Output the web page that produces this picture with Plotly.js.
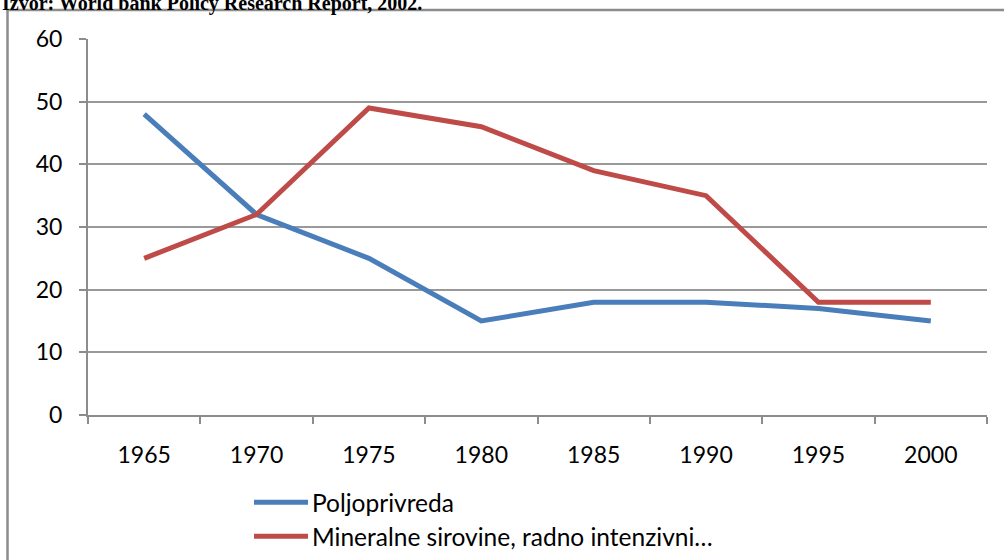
<!DOCTYPE html>
<html>
<head>
<meta charset="utf-8">
<script src="https://cdn.plot.ly/plotly-3.0.1.min.js"></script>
<style>
html,body{margin:0;padding:0;background:#fff;overflow:hidden;}
#chart{width:1004px;height:560px;}
</style>
</head>
<body>
<div id="chart"></div>
<script>
const years = ["1965","1970","1975","1980","1985","1990","1995","2000"];
const seriesNames = ["Poljoprivreda", "Mineralne sirovine, radno intenzivni…"];
const poljoprivreda = [48, 32, 25, 15, 18, 18, 17, 15];
const mineralne = [25, 32, 49, 46, 39, 35, 18, 18];
const sourceText = "Izvor: World bank Policy Research Report, 2002.";
const colors = ["#4A7EBB", "#BE4B48"];

const L = 88, R = 987, T = 38.5, B = 415.5, W = 1004, H = 560;
const px = x => (x - L) / (R - L);
const py = y => (B - y) / (B - T);

const font = "Lato, 'Open Sans', sans-serif";

const traces = [
  {x: years, y: poljoprivreda, name: seriesNames[0], type: "scatter", mode: "lines",
   line: {color: colors[0], width: 5}},
  {x: years, y: mineralne, name: seriesNames[1], type: "scatter", mode: "lines",
   line: {color: colors[1], width: 5}}
];

const shapes = [
  {type: "line", xref: "paper", yref: "paper", x0: px(7.5), x1: px(7.5), y0: py(9.5), y1: py(565), line: {color: "#8c8c8c", width: 2.5}},
  {type: "line", xref: "paper", yref: "paper", x0: px(6.3), x1: px(1010), y0: py(9.5), y1: py(9.5), line: {color: "#8c8c8c", width: 2.5}}
];
const annotations = [
  {xref: "paper", yref: "paper", x: px(0), y: py(16), xanchor: "left", yanchor: "bottom",
   text: "<b>" + sourceText + "</b>", showarrow: false,
   font: {family: "'Liberation Serif', 'DejaVu Serif', serif", size: 20, color: "#000"}}
];
const legendRows = [503, 537];
seriesNames.forEach((n, i) => {
  shapes.push({type: "line", xref: "paper", yref: "paper", x0: px(254), x1: px(308),
    y0: py(legendRows[i]), y1: py(legendRows[i]), line: {color: colors[i], width: 5}});
  annotations.push({xref: "paper", yref: "paper", x: px(310), y: py(legendRows[i]),
    xanchor: "left", yanchor: "middle", text: n, showarrow: false,
    font: {family: font, size: 24.5, color: "#000"}});
});

const layout = {
  width: W, height: H,
  margin: {l: L, r: W - R, t: T, b: H - B},
  paper_bgcolor: "#fff", plot_bgcolor: "#fff",
  showlegend: false,
  font: {family: font, size: 23, color: "#000"},
  xaxis: {
    type: "category", range: [-0.5, 7.5], tickson: "boundaries",
    ticks: "outside", ticklen: 7, tickwidth: 2, tickcolor: "#8c8c8c",
    showline: true, linecolor: "#8c8c8c", linewidth: 2,
    showgrid: false, zeroline: false, ticklabelstandoff: 18,
    tickfont: {family: font, size: 23, color: "#000"}, fixedrange: true
  },
  yaxis: {
    range: [0, 60], dtick: 10, tick0: 0,
    ticks: "outside", ticklen: 7, tickwidth: 2, tickcolor: "#8c8c8c",
    showline: true, linecolor: "#8c8c8c", linewidth: 2,
    showgrid: true, gridcolor: "#999999", gridwidth: 2, zeroline: false,
    ticklabelstandoff: 12,
    tickfont: {family: font, size: 23, color: "#000"}, fixedrange: true
  },
  shapes: shapes,
  annotations: annotations
};

Plotly.newPlot("chart", traces, layout, {staticPlot: true, displayModeBar: false});
</script>
</body>
</html>
